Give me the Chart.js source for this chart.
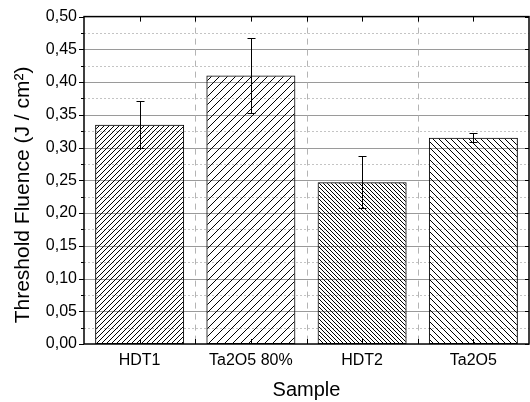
<!DOCTYPE html>
<html>
<head>
<meta charset="utf-8">
<script src="https://cdn.jsdelivr.net/npm/chart.js@4/dist/chart.umd.min.js"></script>
<style>
  html, body { margin: 0; padding: 0; background: #fff; }
  #wrap { width: 530px; height: 402px; }
</style>
</head>
<body>
<div id="wrap"><canvas id="chart" width="530" height="402"></canvas></div>
<script>
const samples = ["HDT1", "Ta2O5 80%", "HDT2", "Ta2O5"];
const fluence = [0.335, 0.41, 0.247, 0.315];
const fluenceErr = [0.036, 0.057, 0.040, 0.007];
const yTitle = "Threshold Fluence (J / cm²)";

// hatch look for each bar: direction and line spacing in px
const hatchDir = ["/", "/", "\\", "\\"];
const hatchGap = [5, 8, 4, 6];

const FONT = "'Liberation Sans', Arial, Helvetica, sans-serif";

function makeHatch(dir, s) {
    const tile = document.createElement("canvas");
    tile.width = s;
    tile.height = s;
    const c = tile.getContext("2d");
    c.strokeStyle = "#000";
    c.lineWidth = 1;
    c.beginPath();
    for (let k = -1; k <= 1; k++) {
        if (dir === "/") {
            c.moveTo(k * s, s);
            c.lineTo(k * s + s, 0);
        } else {
            c.moveTo(k * s, 0);
            c.lineTo(k * s + s, s);
        }
    }
    c.stroke();
    return c.createPattern(tile, "repeat");
}

const hatches = samples.map((_, i) => makeHatch(hatchDir[i], hatchGap[i]));

function fmt(v) {
    return v.toFixed(2).replace(".", ",");
}

const gridPlugin = {
    id: "gridLines",
    beforeDatasetsDraw(chart) {
        const { ctx, chartArea: a, scales: { x, y } } = chart;
        ctx.save();
        ctx.lineWidth = 1;
        // horizontal lines, every 0.025
        for (let i = 1; i < 20; i++) {
            const py = Math.round(y.getPixelForValue(i * 0.025)) + 0.5;
            if (i % 2 === 0) {
                ctx.strokeStyle = "#9a9a9a";
                ctx.setLineDash([]);
            } else {
                ctx.strokeStyle = "#c4c4c4";
                ctx.setLineDash([2, 2]);
            }
            ctx.beginPath();
            ctx.moveTo(a.left, py);
            ctx.lineTo(a.right, py);
            ctx.stroke();
        }
        // vertical dashed lines between categories
        ctx.strokeStyle = "#b4b4b4";
        ctx.setLineDash([6, 5]);
        for (let i = 0; i < samples.length - 1; i++) {
            const px = Math.round((x.getPixelForValue(i) + x.getPixelForValue(i + 1)) / 2) + 0.5;
            ctx.beginPath();
            ctx.moveTo(px, a.top);
            ctx.lineTo(px, a.bottom);
            ctx.stroke();
        }
        ctx.restore();
    },
    afterDatasetsDraw(chart) {
        const { ctx, chartArea: a, scales: { x, y } } = chart;
        ctx.save();
        // error bars
        ctx.strokeStyle = "#000";
        ctx.lineWidth = 1;
        fluence.forEach((v, i) => {
            const px = Math.round(x.getPixelForValue(i)) + 0.5;
            const yTop = Math.round(y.getPixelForValue(v + fluenceErr[i])) + 0.5;
            const yBot = Math.round(y.getPixelForValue(v - fluenceErr[i])) + 0.5;
            ctx.beginPath();
            ctx.moveTo(px, yTop);
            ctx.lineTo(px, yBot);
            ctx.moveTo(px - 4, yTop);
            ctx.lineTo(px + 4, yTop);
            ctx.moveTo(px - 4, yBot);
            ctx.lineTo(px + 4, yBot);
            ctx.stroke();
        });

        // frame
        ctx.lineWidth = 1.5;
        ctx.strokeRect(a.left, a.top, a.right - a.left, a.bottom - a.top);

        // tick marks
        ctx.lineWidth = 1;
        ctx.beginPath();
        for (let i = 0; i <= 20; i++) {
            const py = Math.round(y.getPixelForValue(i * 0.025)) + 0.5;
            const major = i % 2 === 0;
            ctx.moveTo(a.left, py);
            ctx.lineTo(a.left - (major ? 5 : 3), py);
            if (major) {
                ctx.moveTo(a.right, py);
                ctx.lineTo(a.right - 4, py);
            }
        }
        const xs = [];
        for (let i = 0; i < samples.length; i++) {
            xs.push(x.getPixelForValue(i));
            if (i < samples.length - 1) {
                xs.push((x.getPixelForValue(i) + x.getPixelForValue(i + 1)) / 2);
            }
        }
        xs.forEach((v) => {
            const px = Math.round(v) + 0.5;
            ctx.moveTo(px, a.top);
            ctx.lineTo(px, a.top + 5);
            ctx.moveTo(px, a.bottom);
            ctx.lineTo(px, a.bottom - 5);
        });
        ctx.stroke();

        // y axis title, sits a bit lower than chart.js would center it
        ctx.translate(29, 195);
        ctx.rotate(-Math.PI / 2);
        ctx.fillStyle = "#000";
        ctx.font = "21px " + FONT;
        ctx.textAlign = "center";
        ctx.textBaseline = "alphabetic";
        ctx.fillText(yTitle, 0, 0);
        ctx.restore();
    }
};

new Chart(document.getElementById("chart").getContext("2d"), {
    type: "bar",
    data: {
        labels: samples,
        datasets: [
            {
                data: fluence,
                backgroundColor: hatches,
                borderColor: "#000",
                borderWidth: 1,
                borderSkipped: false,
                categoryPercentage: 1,
                barPercentage: 0.8
            }
        ]
    },
    options: {
        responsive: false,
        animation: false,
        layout: { padding: { top: 14, right: 1, left: 0, bottom: 0 } },
        plugins: {
            legend: { display: false },
            tooltip: { enabled: false }
        },
        scales: {
            x: {
                grid: { display: false, drawTicks: false },
                border: { display: false },
                ticks: {
                    color: "#000",
                    padding: 7,
                    font: { family: FONT, size: 16 }
                },
                title: {
                    display: true,
                    text: "Sample",
                    color: "#000",
                    padding: { top: 0, bottom: 0 },
                    font: { family: FONT, size: 20 }
                },
                afterFit(scale) {
                    scale.height = 58;
                }
            },
            y: {
                min: 0,
                max: 0.5,
                grid: { display: false, drawTicks: false },
                border: { display: false },
                ticks: {
                    stepSize: 0.05,
                    color: "#000",
                    padding: 7,
                    font: { family: FONT, size: 16 },
                    callback: (v) => fmt(v)
                },
                afterFit(scale) {
                    scale.width = 84;
                }
            }
        }
    },
    plugins: [gridPlugin]
});
</script>
</body>
</html>
